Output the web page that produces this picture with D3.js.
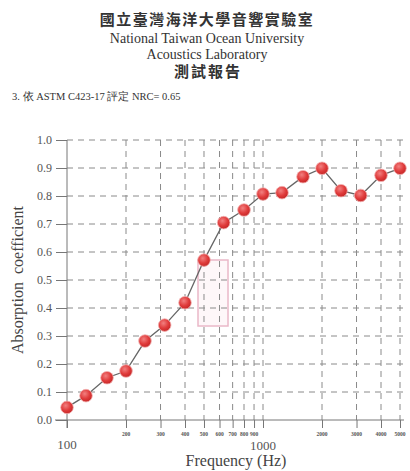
<!DOCTYPE html>
<html><head><meta charset="utf-8">
<script src="https://cdn.jsdelivr.net/npm/d3@7"></script>
<style>
body{margin:0;background:#fff;}
svg{display:block;}
</style></head>
<body>
<script>
const freqs = [100,125,160,200,250,315,400,500,630,800,1000,1250,1600,2000,2500,3150,4000,5000];
const alpha = [0.045,0.087,0.151,0.175,0.282,0.339,0.419,0.571,0.705,0.75,0.807,0.812,0.869,0.899,0.819,0.802,0.874,0.899];
const yTicks = [0,0.1,0.2,0.3,0.4,0.5,0.6,0.7,0.8,0.9,1.0];
const xGrid = [200,300,400,500,600,700,800,900,1000,2000,3000,4000,5000];
const xSmallLabels = ["200","300","400","500","600","700","800","900","2000","3000","4000","5000"];
const xSmallVals = [200,300,400,500,600,700,800,900,2000,3000,4000,5000];
const xBigLabels = ["100","1000"];
const xBigVals = [100,1000];

const W=410,H=471;
const svg=d3.select("body").append("svg").attr("width",W).attr("height",H);
const serif="'Liberation Serif','DejaVu Serif',serif";
const cjk="'Noto Sans CJK TC','Noto Sans CJK SC',serif";

// header
svg.append("text").attr("x",207).attr("y",25).attr("text-anchor","middle")
  .attr("font-family",cjk).attr("font-size",15).attr("font-weight",700).attr("fill","#333")
  .attr("letter-spacing",1.5).text("國立臺灣海洋大學音響實驗室");
svg.append("text").attr("x",207).attr("y",43).attr("text-anchor","middle")
  .attr("font-family",serif).attr("font-size",14).attr("fill","#333").text("National Taiwan Ocean University");
svg.append("text").attr("x",207).attr("y",59).attr("text-anchor","middle")
  .attr("font-family",serif).attr("font-size",14).attr("fill","#333").text("Acoustics Laboratory");
svg.append("text").attr("x",208).attr("y",77).attr("text-anchor","middle")
  .attr("font-family",cjk).attr("font-size",15).attr("font-weight",700).attr("fill","#333")
  .attr("letter-spacing",2).text("測試報告");
svg.append("text").attr("x",12).attr("y",100)
  .attr("font-family",serif).attr("font-size",10.5).attr("fill","#333").text("3. 依 ASTM C423-17  評定 NRC= 0.65");

const x=d3.scaleLog().domain([100,5000]).range([67,400]);
const y=d3.scaleLinear().domain([0,1]).range([420,140]);

const g=svg.append("g");
// stamp
g.append("rect").attr("x",198).attr("y",260).attr("width",30).attr("height",66)
  .attr("fill","#fbe8ee").attr("fill-opacity",0.35).attr("stroke","#eab8c8").attr("stroke-width",1.5);

// horizontal grid
g.selectAll(".hg").data(yTicks.filter(d=>d>0)).join("line")
  .attr("x1",x(100)).attr("x2",404).attr("y1",d=>y(d)).attr("y2",d=>y(d))
  .attr("stroke","#8a8a8a").attr("stroke-width",1).attr("stroke-dasharray","6,5");
// vertical grid
g.selectAll(".vg").data(xGrid).join("line")
  .attr("x1",d=>x(d)).attr("x2",d=>x(d)).attr("y1",y(1)).attr("y2",y(0))
  .attr("stroke","#8a8a8a").attr("stroke-width",1).attr("stroke-dasharray","6,5");

// y axis
const ya=d3.axisLeft(y).tickValues(yTicks).tickFormat(d3.format(".1f")).tickSize(11).tickPadding(4);
const yg=svg.append("g").attr("transform",`translate(${x(100)},0)`).call(ya);
yg.select(".domain").attr("stroke","#777").attr("d",`M0,${y(1)}V${y(0)+8}`);
yg.selectAll(".tick line").attr("stroke","#777");
yg.selectAll("text").attr("font-family",serif).attr("font-size",12).attr("fill","#555");

// x axis
const xa=d3.axisBottom(x).tickValues([100].concat(xGrid)).tickFormat("").tickSize(8);
const xg=svg.append("g").attr("transform",`translate(0,${y(0)})`).call(xa);
xg.select(".domain").attr("stroke","#777").attr("d",`M55,0H404`);
xg.selectAll(".tick line").attr("stroke","#777");

svg.selectAll(".xs").data(xSmallVals).join("text")
  .attr("x",d=>x(d)).attr("y",436).attr("text-anchor","middle")
  .attr("font-family",serif).attr("font-size",5.5).attr("font-weight",700).attr("fill","#555")
  .text((d,i)=>xSmallLabels[i]);
svg.selectAll(".xb").data(xBigVals).join("text")
  .attr("x",d=>x(d)).attr("y",(d,i)=>i===0?449:450).attr("text-anchor","middle")
  .attr("font-family",serif).attr("font-size",13).attr("fill","#555")
  .text((d,i)=>xBigLabels[i]);

// axis titles
svg.append("text").attr("x",236).attr("y",466).attr("text-anchor","middle")
  .attr("font-family",serif).attr("font-size",16).attr("fill","#444").text("Frequency (Hz)");
svg.append("text").attr("transform","translate(23,280) rotate(-90)").attr("text-anchor","middle")
  .attr("font-family",serif).attr("font-size",16).attr("fill","#444")
  .style("white-space","pre").text("Absorption  coefficient");

// line
const pts=freqs.map((f,i)=>[f,alpha[i]]);
svg.append("path").datum(pts).attr("fill","none").attr("stroke","#666").attr("stroke-width",1.3)
  .attr("d",d3.line().x(d=>x(d[0])).y(d=>y(d[1])));

const defs=svg.append("defs");
const rg=defs.append("radialGradient").attr("id","ball").attr("cx","40%").attr("cy","35%").attr("r","65%");
rg.append("stop").attr("offset","0%").attr("stop-color","#f28080");
rg.append("stop").attr("offset","60%").attr("stop-color","#e03c3c");
rg.append("stop").attr("offset","100%").attr("stop-color","#c62828");

svg.selectAll(".pt").data(pts).join("circle")
  .attr("cx",d=>x(d[0])).attr("cy",d=>y(d[1])).attr("r",6.3)
  .attr("fill","url(#ball)").attr("stroke","#f3b0b0").attr("stroke-width",0.8);
</script>
</body></html>
